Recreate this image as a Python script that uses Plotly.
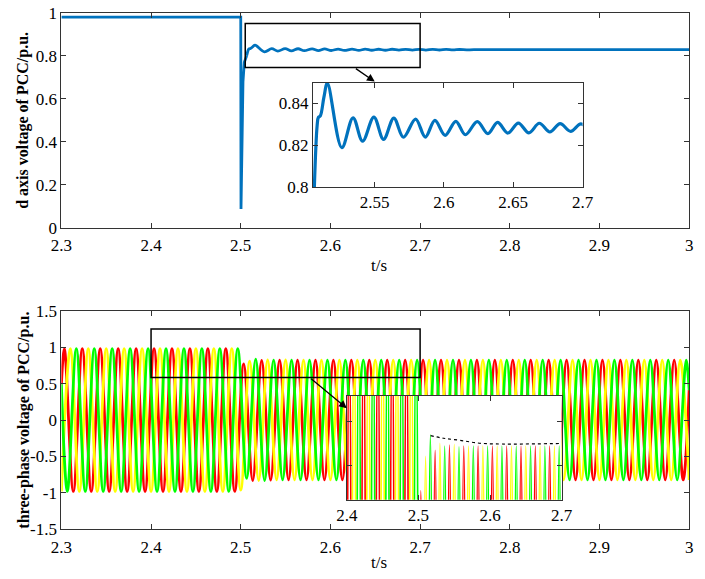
import numpy as np
import plotly.graph_objects as go

# ---------------- data ----------------
# d-axis PCC voltage: fault part (drawn straight) and oscillating part (drawn smooth)
dax_fault_t = [2.3, 2.5, 2.5003, 2.5012, 2.5025, 2.504, 2.5066]
dax_fault_v = [0.98, 0.98, 0.087, 0.45, 0.68, 0.77, 0.80]

dax_osc_t = [2.5066, 2.5086, 2.5095, 2.5109, 2.5135, 2.516, 2.5264, 2.5345, 2.5414,
             2.5495, 2.5565, 2.5639, 2.5708, 2.5796, 2.5866, 2.5935, 2.6009, 2.6086,
             2.6155, 2.6241, 2.6317, 2.6387, 2.6461, 2.6537, 2.6613, 2.6688, 2.6764,
             2.6838, 2.6914, 2.6988, 2.7064, 2.714, 2.7216, 2.729, 2.7366, 2.744,
             2.752, 2.76, 3.0]
dax_osc_v = [0.80, 0.8294, 0.8333, 0.834, 0.843, 0.8497, 0.8188, 0.8331, 0.8219,
             0.8334, 0.8228, 0.833, 0.8238, 0.8325, 0.8239, 0.8319, 0.8247, 0.8314,
             0.825, 0.8313, 0.8255, 0.8309, 0.8258, 0.8306, 0.8259, 0.8305, 0.8263,
             0.8303, 0.8266, 0.8302, 0.8268, 0.8299, 0.8271, 0.8297, 0.8273, 0.8294,
             0.8278, 0.8285, 0.8285]

# three-phase PCC voltage: value at start, then every extremum (one per half cycle), then value at end
start_t = 2.3
end_t = 3.0
half_cycle_s = 0.01          # 50 Hz
red_first_ext_t = 2.30333
green_first_ext_t = 2.30667
yellow_first_ext_t = 2.30

red_v = [0.49,
         0.98, -0.98, 0.98, -0.98, 0.98, -0.98, 0.98, -0.98, 0.98, -0.98,
         0.98, -0.98, 0.98, -0.98, 0.98, -0.98, 0.98, -0.98, 0.98, -0.98,
         0.77, -0.83, 0.817, -0.823, 0.823, -0.822,
         0.822, -0.822, 0.822, -0.822, 0.822, -0.822, 0.822, -0.822, 0.822, -0.822,
         0.822, -0.822, 0.822, -0.822, 0.822, -0.822, 0.822, -0.822, 0.822, -0.822,
         0.822, -0.822, 0.822, -0.822, 0.822, -0.822, 0.822, -0.822, 0.822, -0.822,
         0.822, -0.822, 0.822, -0.822, 0.822, -0.822, 0.822, -0.822, 0.822, -0.822,
         0.822, -0.822, 0.822, -0.822,
         0.41]
green_v = [0.49,
           -0.98, 0.98, -0.98, 0.98, -0.98, 0.98, -0.98, 0.98, -0.98, 0.98,
           -0.98, 0.98, -0.98, 0.98, -0.98, 0.98, -0.98, 0.98, -0.98, 0.98,
           -0.80, 0.835, -0.83, 0.822, -0.822, 0.821,
           -0.822, 0.822, -0.822, 0.822, -0.822, 0.822, -0.822, 0.822, -0.822, 0.822,
           -0.822, 0.822, -0.822, 0.822, -0.822, 0.822, -0.822, 0.822, -0.822, 0.822,
           -0.822, 0.822, -0.822, 0.822, -0.822, 0.822, -0.822, 0.822, -0.822, 0.822,
           -0.822, 0.822, -0.822, 0.822, -0.822, 0.822, -0.822, 0.822, -0.822, 0.822,
           -0.822, 0.822, -0.822, 0.822,
           0.41]
yellow_v = [-0.98, 0.98, -0.98, 0.98, -0.98, 0.98, -0.98, 0.98, -0.98, 0.98,
            -0.98, 0.98, -0.98, 0.98, -0.98, 0.98, -0.98, 0.98, -0.98, 0.98,
            -0.96,
            0.81, -0.83, 0.825, -0.822, 0.824, -0.822,
            0.822, -0.822, 0.822, -0.822, 0.822, -0.822, 0.822, -0.822, 0.822, -0.822,
            0.822, -0.822, 0.822, -0.822, 0.822, -0.822, 0.822, -0.822, 0.822, -0.822,
            0.822, -0.822, 0.822, -0.822, 0.822, -0.822, 0.822, -0.822, 0.822, -0.822,
            0.822, -0.822, 0.822, -0.822, 0.822, -0.822, 0.822, -0.822, 0.822, -0.822,
            0.822, -0.822, 0.822, -0.822]

# dashed envelope in the lower inset
env_t = [2.517, 2.535, 2.558, 2.59, 2.7]
env_v = [0.834, 0.831, 0.8286, 0.825, 0.825]

# zoom rectangles and ticks
top_rect = [2.505, 2.7, 0.745, 0.95]
bot_rect = [2.4, 2.7, 0.585, 1.25]
x_main_ticks = [2.3, 2.4, 2.5, 2.6, 2.7, 2.8, 2.9, 3.0]
x_main_text = ["2.3", "2.4", "2.5", "2.6", "2.7", "2.8", "2.9", "3"]
y_top_ticks = [0, 0.2, 0.4, 0.6, 0.8, 1]
y_top_text = ["0", "0.2", "0.4", "0.6", "0.8", "1"]
y_bot_ticks = [-1.5, -1, -0.5, 0, 0.5, 1, 1.5]
y_bot_text = ["-1.5", "-1", "-0.5", "0", "0.5", "1", "1.5"]
x_in1_ticks = [2.55, 2.6, 2.65, 2.7]
x_in1_text = ["2.55", "2.6", "2.65", "2.7"]
y_in1_ticks = [0.8, 0.82, 0.84]
y_in1_text = ["0.8", "0.82", "0.84"]
x_in2_ticks = [2.4, 2.5, 2.6, 2.7]
x_in2_text = ["2.4", "2.5", "2.6", "2.7"]


def ext_times(first, n_ext, with_start, with_end):
    t = list(np.round(first + half_cycle_s * np.arange(n_ext), 5))
    if with_start:
        t = [start_t] + t
    if with_end:
        t = t + [end_t]
    return t


red_t = ext_times(red_first_ext_t, len(red_v) - 2, True, True)
green_t = ext_times(green_first_ext_t, len(green_v) - 2, True, True)
yellow_t = ext_times(yellow_first_ext_t, len(yellow_v), False, False)

BLUE = "#0072BD"
RED = "#FF0000"
YEL = "#FFFF00"
GRN = "#00FF00"
FONT = "Liberation Serif, Times New Roman, serif"
W, H = 705, 579


def px_x(p):
    return p / W


def px_y(p):
    return 1 - p / H


fig = go.Figure()

# top main
fig.add_trace(go.Scatter(x=dax_fault_t, y=dax_fault_v, mode="lines",
                         line=dict(color=BLUE, width=2.8), xaxis="x", yaxis="y"))
fig.add_trace(go.Scatter(x=dax_osc_t, y=dax_osc_v, mode="lines",
                         line=dict(color=BLUE, width=2.8, shape="spline"), xaxis="x", yaxis="y"))
# bottom main
for tt, vv, cc in [(red_t, red_v, RED), (yellow_t, yellow_v, YEL), (green_t, green_v, GRN)]:
    fig.add_trace(go.Scatter(x=tt, y=vv, mode="lines",
                             line=dict(color=cc, width=2.8, shape="spline"),
                             xaxis="x2", yaxis="y2"))
# top inset
fig.add_trace(go.Scatter(x=dax_fault_t, y=dax_fault_v, mode="lines",
                         line=dict(color=BLUE, width=3.2), xaxis="x3", yaxis="y3"))
fig.add_trace(go.Scatter(x=dax_osc_t, y=dax_osc_v, mode="lines",
                         line=dict(color=BLUE, width=3.2, shape="spline"), xaxis="x3", yaxis="y3"))
# bottom inset
for tt, vv, cc in [(red_t, red_v, RED), (yellow_t, yellow_v, YEL), (green_t, green_v, GRN)]:
    fig.add_trace(go.Scatter(x=tt, y=vv, mode="lines",
                             line=dict(color=cc, width=1.8, shape="spline"),
                             xaxis="x4", yaxis="y4"))
fig.add_trace(go.Scatter(x=env_t, y=env_v, mode="lines",
                         line=dict(color="black", width=1.2, dash="dot", shape="spline"),
                         xaxis="x4", yaxis="y4"))

ax_common = dict(showline=True, linecolor="#333333", linewidth=1, mirror="ticks",
                 ticks="inside", ticklen=5, tickcolor="#333333", showgrid=False,
                 zeroline=False, tickfont=dict(family=FONT, size=17, color="black"),
                 tickmode="array")

fig.update_layout(
    width=W, height=H, margin=dict(l=0, r=0, t=0, b=0),
    paper_bgcolor="white", plot_bgcolor="white", showlegend=False,
    xaxis=dict(ax_common, domain=[px_x(52), px_x(700)], range=[2.3, 3.0],
               tickvals=x_main_ticks, ticktext=x_main_text, anchor="y",
               ticklabelstandoff=2),
    yaxis=dict(ax_common, domain=[px_y(226), px_y(4)], range=[0, 1],
               tickvals=y_top_ticks, ticktext=y_top_text, anchor="x"),
    xaxis2=dict(ax_common, domain=[px_x(52), px_x(700)], range=[2.3, 3.0],
                tickvals=x_main_ticks, ticktext=x_main_text, anchor="y2",
                ticklabelstandoff=2),
    yaxis2=dict(ax_common, domain=[px_y(538), px_y(312)], range=[-1.5, 1.5],
                tickvals=y_bot_ticks, ticktext=y_bot_text, anchor="x2"),
    xaxis3=dict(ax_common, domain=[px_x(311.7), px_x(590)], range=[2.5056, 2.7],
                tickvals=x_in1_ticks, ticktext=x_in1_text, anchor="y3"),
    yaxis3=dict(ax_common, domain=[px_y(184), px_y(76)], range=[0.8, 0.85],
                tickvals=y_in1_ticks, ticktext=y_in1_text, anchor="x3"),
    xaxis4=dict(ax_common, domain=[px_x(346.7), px_x(568.3)], range=[2.4, 2.7],
                tickvals=x_in2_ticks, ticktext=x_in2_text, anchor="y4"),
    yaxis4=dict(ax_common, domain=[px_y(507.3), px_y(400)], range=[0.76, 0.88],
                showticklabels=False, tickvals=[0.8, 0.85], anchor="x4"),
)

fig.add_shape(type="rect", xref="x", yref="y", x0=top_rect[0], x1=top_rect[1],
              y0=top_rect[2], y1=top_rect[3], line=dict(color="black", width=1.5))
fig.add_shape(type="rect", xref="x2", yref="y2", x0=bot_rect[0], x1=bot_rect[1],
              y0=bot_rect[2], y1=bot_rect[3], line=dict(color="black", width=1.5))

fig.add_annotation(x=2.6494, y=0.680, ax=2.6267, ay=0.745, xref="x", yref="y",
                   axref="x", ayref="y", text="", showarrow=True, arrowhead=2,
                   arrowsize=1.2, arrowwidth=1.3, arrowcolor="black")
fig.add_annotation(x=2.6183, y=0.163, ax=2.5768, ay=0.584, xref="x2", yref="y2",
                   axref="x2", ayref="y2", text="", showarrow=True, arrowhead=2,
                   arrowsize=1.2, arrowwidth=1.3, arrowcolor="black")

title_font = dict(family=FONT, size=16, color="black")
fig.add_annotation(x=px_x(13), y=px_y(115), xref="paper", yref="paper",
                   xanchor="center", yanchor="middle",
                   text="<b>d axis voltage of PCC/p.u.</b>", textangle=-90,
                   showarrow=False, font=title_font)
fig.add_annotation(x=px_x(13), y=px_y(425), xref="paper", yref="paper",
                   xanchor="center", yanchor="middle",
                   text="<b>three-phase voltage of PCC/p.u.</b>", textangle=-90,
                   showarrow=False, font=title_font)
fig.add_annotation(x=px_x(380), y=px_y(265), xref="paper", yref="paper",
                   xanchor="center", yanchor="middle",
                   text="t/s", showarrow=False, font=dict(family=FONT, size=17, color="black"))
fig.add_annotation(x=px_x(380), y=px_y(572), xref="paper", yref="paper",
                   xanchor="center", yanchor="middle",
                   text="t/s", showarrow=False, font=dict(family=FONT, size=17, color="black"))

fig.write_html("out.html")
